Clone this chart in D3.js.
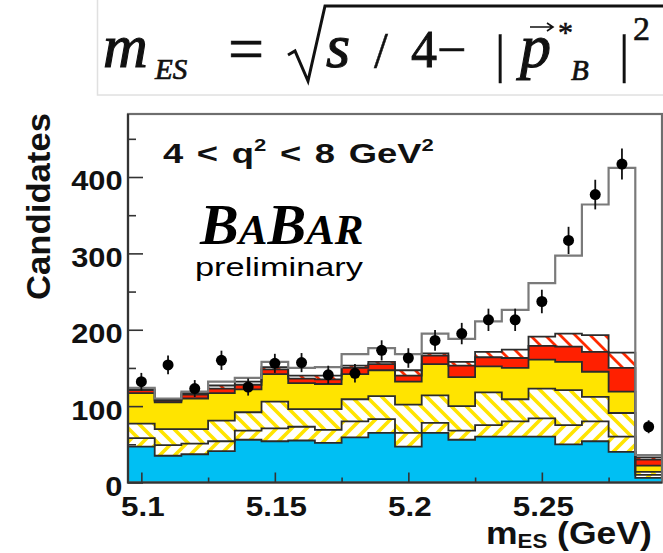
<!DOCTYPE html>
<html>
<head>
<meta charset="utf-8">
<script src="https://cdn.jsdelivr.net/npm/d3@7"></script>
<style>
  html, body { margin: 0; padding: 0; background: #fff; }
  svg { display: block; }
</style>
</head>
<body>
<svg id="chart" width="663" height="553"></svg>
<script>
// ---- m_ES distribution, 4 < q^2 < 8 GeV^2, 0.01 GeV bins ----
const binCenters = [5.10, 5.11, 5.12, 5.13, 5.14, 5.15, 5.16, 5.17, 5.18, 5.19,
                    5.20, 5.21, 5.22, 5.23, 5.24, 5.25, 5.26, 5.27, 5.28, 5.29];
const binWidth = 0.01;

// data points and their statistical errors
const dataCounts = [132, 154, 123, 160, 125, 156, 157, 141, 143, 173,
                    163, 186, 195, 213, 213, 237, 317, 377, 417, 73];
const dataErrors = [11.5, 12.4, 11.1, 12.6, 11.2, 12.5, 12.5, 11.9, 12.0, 13.2,
                    12.8, 13.6, 14.0, 14.6, 14.6, 15.4, 17.8, 19.4, 20.4, 8.5];

// stacked simulation components, bottom to top
const cyanBkg      = [47, 35, 37, 41, 56, 54, 55, 52, 59, 65, 47, 65, 56, 60, 60, 60, 50, 54, 40, 6];
const lowHatchBkg  = [11, 14, 14, 13, 12, 17, 18, 17, 21, 18, 18, 13, 12, 15, 20, 24, 25, 26, 20, 4];
const highHatchBkg = [19, 21, 19, 27, 24, 35, 23, 27, 29, 30, 37, 36, 32, 43, 29, 39, 46, 32, 31, 4];
const yellowBkg    = [40, 35, 40, 36, 30, 36, 34, 33, 33, 34, 30, 41, 38, 34, 41, 38, 37, 33, 28, 8];
const redBkg       = [4, 2, 5, 6, 6, 6, 6, 6, 8, 8, 8, 11, 15, 12, 13, 18, 20, 26, 31, 8];
const redHatchBkg  = [1, 1, 2, 4, 4, 3, 4, 5, 3, 3, 7, 3, 5, 7, 11, 12, 17, 22, 20, 3];
const signalMC     = [2, 2, 2, 5, 5, 7, 10, 11, 15, 18, 21, 26, 30, 40, 52, 70, 102, 171, 242, 3];

// axis ticks
const yMajorTicks = [0, 100, 200, 300, 400];
const yMinorTicks = [50, 150, 250, 350, 450];
const xMajorTicks = [5.10, 5.15, 5.20, 5.25];
const xMinorTicks = [5.125, 5.175, 5.225, 5.275];
const xTickLabels = ["5.1", "5.15", "5.2", "5.25"];

// ---- drawing ----
const svg = d3.select("#chart");
const SANS = "'Liberation Sans', Arial, Helvetica, sans-serif";
const SERIF = "'Liberation Serif', 'Times New Roman', serif";

const x = d3.scaleLinear().domain([5.095, 5.295]).range([128, 662]);
const y = d3.scaleLinear().domain([0, 482.5]).range([482.5, 114]);

const defs = svg.append("defs");
function hatch(id, color, width, dir) {
  const p = defs.append("pattern").attr("id", id)
    .attr("patternUnits", "userSpaceOnUse").attr("width", 15).attr("height", 15);
  p.append("rect").attr("width", 15).attr("height", 15).attr("fill", "#fff");
  const d = dir === "back"
    ? "M-4,11 L4,19 M0,0 L15,15 M11,-4 L19,4"
    : "M-4,4 L4,-4 M0,15 L15,0 M11,19 L19,11";
  p.append("path").attr("d", d).attr("stroke", color).attr("stroke-width", width);
}
hatch("hatchLow", "#ffe400", 3.6, "fwd");
hatch("hatchHigh", "#ffe400", 3.6, "back");
hatch("hatchRed", "#ff2a00", 2.8, "back");

defs.append("clipPath").attr("id", "plotClip")
  .append("rect").attr("x", 128).attr("y", 114).attr("width", 534).attr("height", 368.5);

// formula panel
const fg = svg.append("g");
fg.append("rect").attr("x", 97.5).attr("y", -2).attr("width", 580).attr("height", 97)
  .attr("fill", "#fff").attr("stroke", "#e0e0e0").attr("stroke-width", 1.5);
function ftext(xp, yp, str, size, style, weight) {
  fg.append("text").attr("x", xp).attr("y", yp).text(str)
    .attr("font-family", SERIF).attr("font-size", size)
    .attr("font-style", style || "normal").attr("fill", "#111")
    .attr("stroke", "#111").attr("stroke-width", weight === undefined ? 1.1 : weight);
}
ftext(103, 67, "m", 62, "italic");
ftext(155, 79, "ES", 29, "italic", 0.7);
ftext(228, 70, "=", 64, "normal", 0.6);
fg.append("path").attr("d", "M288,55 L295,51 L308,81 L325,6 L663,6")
  .attr("fill", "none").attr("stroke", "#111").attr("stroke-width", 3)
  .attr("stroke-linejoin", "miter");
ftext(326, 67, "s", 62, "italic");
ftext(374, 67, "/", 50, "normal", 0.5);
ftext(411, 67, "4", 52, "normal", 0.9);
ftext(437, 67, "\u2212", 52, "normal", 0.6);
ftext(495, 72, "|", 52, "normal", 0.3);
ftext(520, 67, "p", 62, "italic");
fg.append("path").attr("d", "M530,27 L552,27 M547,23 L553,27 L547,31")
  .attr("fill", "none").attr("stroke", "#111").attr("stroke-width", 1.6);
ftext(558, 42, "*", 30, "normal", 0.6);
ftext(571, 80, "B", 29, "italic", 0.7);
ftext(619, 72, "|", 52, "normal", 0.3);
ftext(633, 40, "2", 34, "normal", 0.6);

// stacked histogram
const layerKeys = ["cyan", "hatchLow", "hatchHigh", "yellow", "red", "redHatch", "signal"];
const layerFill = {
  cyan: "#00bff3", hatchLow: "url(#hatchLow)", hatchHigh: "url(#hatchHigh)",
  yellow: "#ffe400", red: "#ff2000", redHatch: "url(#hatchRed)", signal: "none"
};
const table = binCenters.map((c, i) => ({
  center: c,
  cyan: cyanBkg[i], hatchLow: lowHatchBkg[i], hatchHigh: highHatchBkg[i],
  yellow: yellowBkg[i], red: redBkg[i], redHatch: redHatchBkg[i], signal: signalMC[i]
}));
const stacked = d3.stack().keys(layerKeys)(table);

function stepPoints(series) {
  const pts = series.map((d, i) => ({ e: binCenters[i] - binWidth / 2, y0: d[0], y1: d[1] }));
  const last = series[series.length - 1];
  pts.push({ e: binCenters[binCenters.length - 1] + binWidth / 2, y0: last[0], y1: last[1] });
  return pts;
}
const area = d3.area().x(d => x(d.e)).y0(d => y(d.y0)).y1(d => y(d.y1)).curve(d3.curveStepAfter);
const topLine = d3.line().x(d => x(d.e)).y(d => y(d.y1)).curve(d3.curveStepAfter);

const hist = svg.append("g").attr("clip-path", "url(#plotClip)");
stacked.forEach(s => {
  if (layerFill[s.key] !== "none") {
    hist.append("path").attr("d", area(stepPoints(s))).attr("fill", layerFill[s.key]);
  }
});
stacked.forEach(s => {
  const isTotal = s.key === "signal";
  hist.append("path").attr("d", topLine(stepPoints(s)))
    .attr("fill", "none")
    .attr("stroke", isTotal ? "#7a7a7a" : "#2b2b2b")
    .attr("stroke-width", isTotal ? 2.2 : 1.8);
});

// data points
const pts = svg.append("g");
binCenters.forEach((c, i) => {
  pts.append("line")
    .attr("x1", x(c)).attr("x2", x(c))
    .attr("y1", y(dataCounts[i] - dataErrors[i])).attr("y2", y(dataCounts[i] + dataErrors[i]))
    .attr("stroke", "#111").attr("stroke-width", 1.8);
  pts.append("circle").attr("cx", x(c)).attr("cy", y(dataCounts[i])).attr("r", 5.5).attr("fill", "#000");
});

// frame
svg.append("rect").attr("x", 128).attr("y", 114).attr("width", 534).attr("height", 368.5)
  .attr("fill", "none").attr("stroke", "#6e6e6e").attr("stroke-width", 2.2);
svg.append("path").attr("d", "M128,114 L128,482.5 L662,482.5")
  .attr("fill", "none").attr("stroke", "#333").attr("stroke-width", 2.2);

// axes (ticks point into the frame)
const yAxis = svg.append("g").attr("transform", "translate(128,0)")
  .call(d3.axisLeft(y).tickValues(yMajorTicks).tickSize(-15).tickPadding(5).tickFormat(d3.format("d")));
const yMinor = svg.append("g").attr("transform", "translate(128,0)")
  .call(d3.axisLeft(y).tickValues(yMinorTicks).tickSize(-8).tickFormat(""));
const xAxis = svg.append("g").attr("transform", "translate(0,482.5)")
  .call(d3.axisBottom(x).tickValues(xMajorTicks).tickSize(-10).tickPadding(14)
    .tickFormat((d, i) => xTickLabels[i]));
const xMinor = svg.append("g").attr("transform", "translate(0,482.5)")
  .call(d3.axisBottom(x).tickValues(xMinorTicks).tickSize(-5).tickFormat(""));

[yAxis, yMinor, xAxis, xMinor].forEach(g => {
  g.select(".domain").remove();
  g.selectAll(".tick line").attr("stroke", "#333").attr("stroke-width", 1.6);
});
yAxis.selectAll(".tick text")
  .attr("font-family", SANS).attr("font-size", 28).attr("font-weight", "bold").attr("fill", "#111")
  .attr("dy", "0.46em").attr("transform", "scale(1.1,1)");
xAxis.selectAll(".tick text")
  .attr("font-family", SANS).attr("font-size", 28).attr("font-weight", "bold").attr("fill", "#111")
  .attr("transform", "translate(1,0) scale(1.12,1)");

// axis titles
svg.append("text")
  .attr("transform", "translate(50,113) rotate(-90)")
  .attr("text-anchor", "end")
  .attr("font-family", SANS).attr("font-size", 34).attr("font-weight", "bold").attr("fill", "#111")
  .attr("textLength", 187).attr("lengthAdjust", "spacingAndGlyphs")
  .text("Candidates");

const xt = svg.append("text")
  .attr("transform", "translate(486,544) scale(1.11,1)")
  .attr("font-family", SANS).attr("font-size", 32).attr("font-weight", "bold").attr("fill", "#111");
xt.append("tspan").text("m");
xt.append("tspan").attr("font-size", 20).attr("dy", 4).text("ES");
xt.append("tspan").attr("dy", -4).text(" (GeV)");

// q^2 range label
const ql = svg.append("text")
  .attr("transform", "translate(163,163.3) scale(1.3,1)")
  .attr("font-family", SANS).attr("font-size", 28).attr("font-weight", "bold").attr("fill", "#111")
  .attr("word-spacing", 2.7);
ql.append("tspan").text("4 < q");
ql.append("tspan").attr("font-size", 17).attr("dy", -12).text("2");
ql.append("tspan").attr("dy", 12).text(" < 8 GeV");
ql.append("tspan").attr("font-size", 17).attr("dy", -12).text("2");

// experiment logo
const logo = svg.append("text").attr("x", 200).attr("y", 244)
  .attr("font-family", SERIF).attr("font-style", "italic").attr("font-weight", "bold").attr("fill", "#000");
logo.append("tspan").attr("font-size", 58).text("B");
logo.append("tspan").attr("font-size", 43).text("A");
logo.append("tspan").attr("font-size", 58).text("B");
logo.append("tspan").attr("font-size", 43).text("AR");

svg.append("text").attr("x", 195).attr("y", 276)
  .attr("font-family", SANS).attr("font-size", 26).attr("fill", "#000")
  .attr("textLength", 168).attr("lengthAdjust", "spacingAndGlyphs")
  .text("preliminary");
</script>
</body>
</html>
